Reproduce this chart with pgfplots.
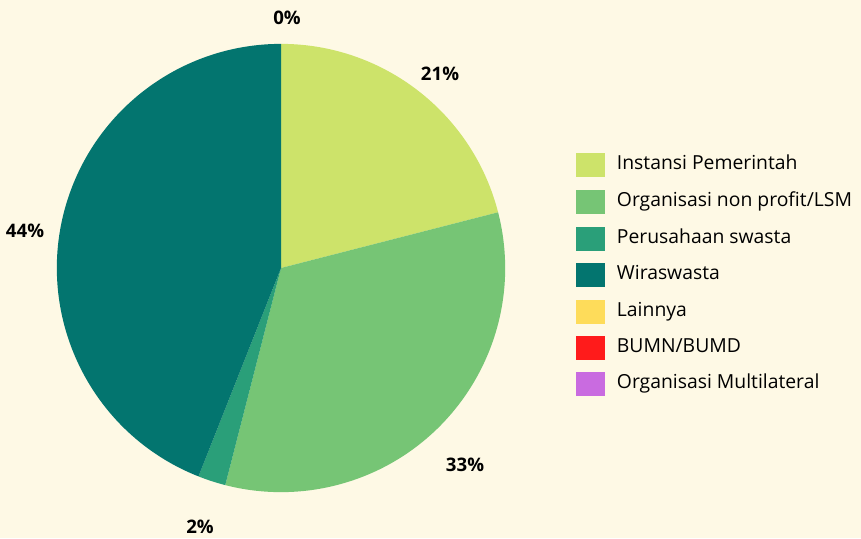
\documentclass[border=0pt]{standalone}
\usepackage{pgfplots}
\pgfplotsset{compat=1.18}
\usepackage{fontspec}
\setmainfont{Open Sans}
\definecolor{bg}{HTML}{FEF9E5}
\definecolor{cA}{HTML}{CDE36A}
\definecolor{cB}{HTML}{76C575}
\definecolor{cC}{HTML}{2A9F79}
\definecolor{cD}{HTML}{03756F}
\definecolor{cE}{HTML}{FEDC5A}
\definecolor{cF}{HTML}{FF1B1B}
\definecolor{cG}{HTML}{C96BE0}
\begin{document}
\begin{tikzpicture}
\begin{axis}[
  x=0.01cm, y=0.01cm,
  xmin=0, xmax=861, ymin=0, ymax=538,
  hide axis, clip=false,
  legend image code/.code={\fill[#1, draw=none] (0cm,-0.12cm) rectangle (0.29cm,0.12cm); \path[draw=none, fill=none] (0cm,0cm) -- (0.37cm,0cm);},
  legend style={at={(axis cs:575,388)}, anchor=north west, draw=none, fill=none,
    font=\fontsize{5.5}{6.6}\selectfont, row sep=2.4pt, inner sep=0pt,
    nodes={inner sep=1.2pt}},
  legend cell align=left,
]
\fill[bg] (axis cs:0,0) rectangle (axis cs:861,538);
\gdef\cum{0}
\foreach \v/\c in {21/cA, 33/cB, 2/cC, 44/cD}{
  \pgfmathsetmacro\sa{90-3.6*\cum}
  \pgfmathsetmacro\ea{90-3.6*(\cum+\v)}
  \pgfmathsetmacro\nc{\cum+\v}
  \xdef\cum{\nc}
  \edef\temp{\noexpand\fill[\c] (axis cs:281,270) -- ([shift={(\sa:2.24cm)}]axis cs:281,270) arc[start angle=\sa, end angle=\ea, radius=2.24cm] -- cycle;}
  \temp
}
\foreach \t/\lx/\ly in {0\%/287/520, 21\%/440/464, 33\%/465/73, 2\%/200/11, 44\%/25/307}{
  \edef\temp{\noexpand\node[font=\noexpand\fontsize{5.3}{6.3}\noexpand\selectfont\noexpand\bfseries, inner sep=0pt] at (axis cs:\lx,\ly) {\t};}
  \temp
}
\addlegendimage{fill=cA}
\addlegendimage{fill=cB}
\addlegendimage{fill=cC}
\addlegendimage{fill=cD}
\addlegendimage{fill=cE}
\addlegendimage{fill=cF}
\addlegendimage{fill=cG}
\legend{Instansi Pemerintah, Organisasi non profit/LSM, Perusahaan swasta, Wiraswasta, Lainnya, BUMN/BUMD, Organisasi Multilateral}
\end{axis}
\end{tikzpicture}
\end{document}
